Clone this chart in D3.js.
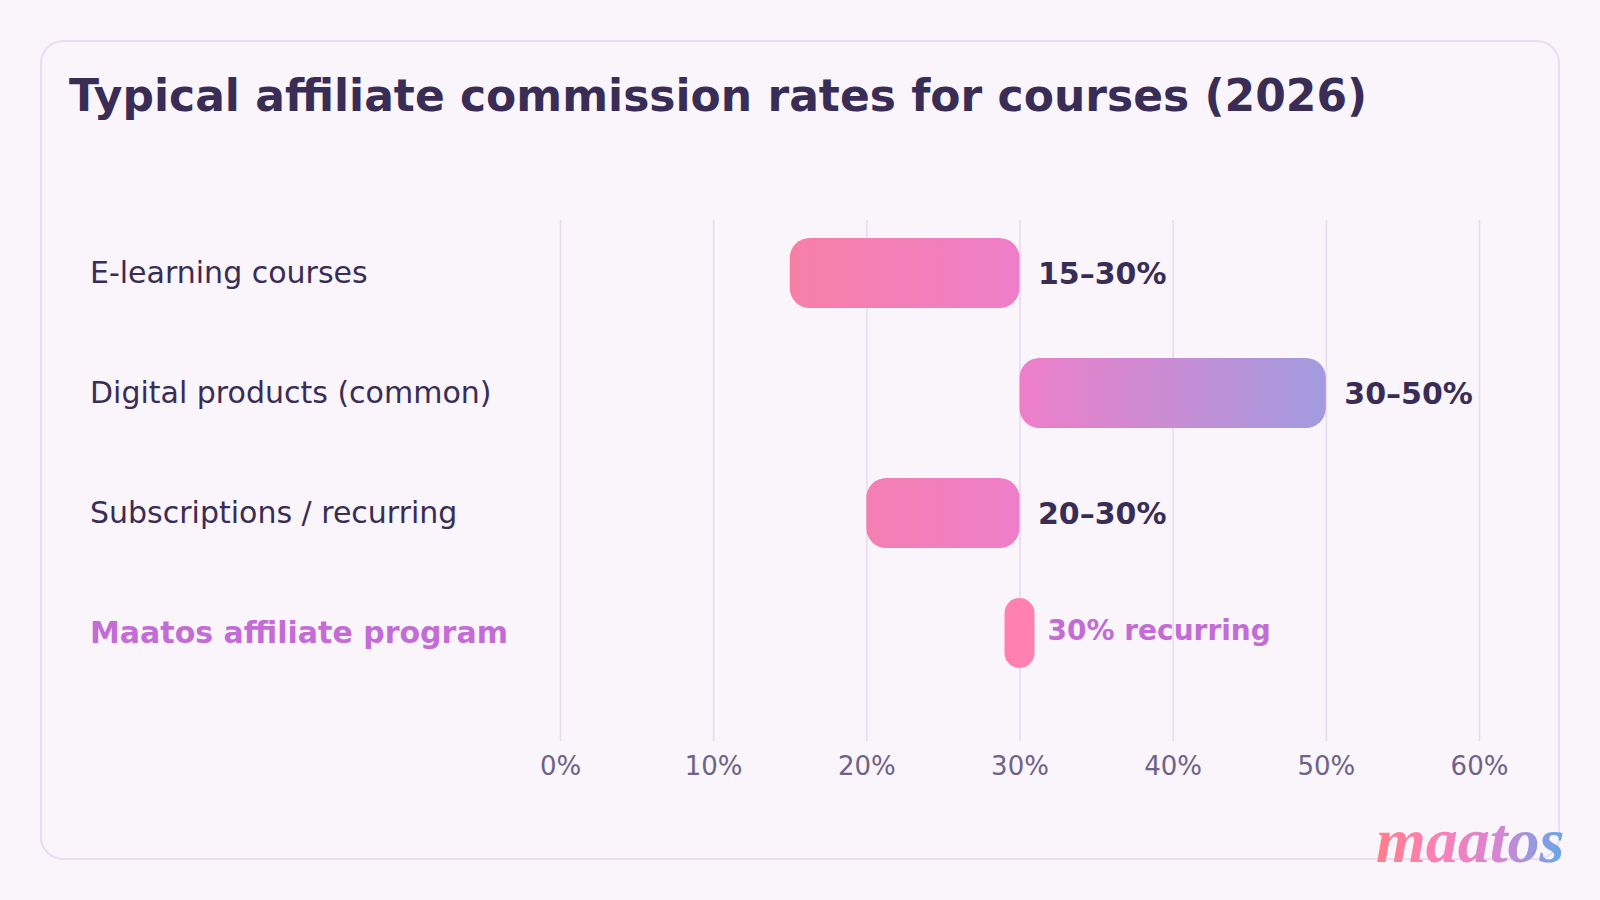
<!DOCTYPE html>
<html>
<head>
<meta charset="utf-8">
<script src="https://cdn.jsdelivr.net/npm/d3@7"></script>
<style>
  html, body { margin: 0; padding: 0; background: #F9F5FA; }
  svg { display: block; }
</style>
</head>
<body>
<svg id="chart" width="1600" height="900"></svg>
<script>
const categories = ["E-learning courses", "Digital products (common)", "Subscriptions / recurring", "Maatos affiliate program"];
const lowValues = [15, 30, 20, 30];
const highValues = [30, 50, 30, 30];
const valueLabels = ["15–30%", "30–50%", "20–30%", "30% recurring"];
const highlight = [false, false, false, true];
const tickValues = [0, 10, 20, 30, 40, 50, 60];
const tickLabels = ["0%", "10%", "20%", "30%", "40%", "50%", "60%"];
const titleText = "Typical affiliate commission rates for courses (2026)";

const svg = d3.select("#chart");
const font = "'DejaVu Sans', sans-serif";

svg.append("rect").attr("width", 1600).attr("height", 900).attr("fill", "#F9F5FA");
svg.append("rect")
  .attr("x", 41).attr("y", 41).attr("width", 1518).attr("height", 818)
  .attr("rx", 22).attr("ry", 22)
  .attr("fill", "#F9F5FA").attr("stroke", "#E8DEF0").attr("stroke-width", 2);

svg.append("text")
  .attr("x", 69).attr("y", 111)
  .attr("font-family", font).attr("font-weight", "bold").attr("font-size", 44)
  .attr("fill", "#3A2D55")
  .text(titleText);

const x = d3.scaleLinear().domain([0, 60]).range([560, 1479]);
const y = d3.scaleBand().domain(categories).range([238, 668]).paddingInner(50 / 120).paddingOuter(0);

const defs = svg.append("defs");
const grad = defs.append("linearGradient")
  .attr("id", "barGrad").attr("gradientUnits", "userSpaceOnUse")
  .attr("x1", x(15)).attr("x2", x(50)).attr("y1", 0).attr("y2", 0);
grad.append("stop").attr("offset", 0).attr("stop-color", "#F77FA6");
grad.append("stop").attr("offset", 15 / 35).attr("stop-color", "#EE7EC9");
grad.append("stop").attr("offset", 1).attr("stop-color", "#A29BDF");

const logoGrad = defs.append("linearGradient")
  .attr("id", "logoGrad").attr("x1", 0).attr("x2", 1).attr("y1", 0).attr("y2", 0);
logoGrad.append("stop").attr("offset", 0).attr("stop-color", "#FF7F8C");
logoGrad.append("stop").attr("offset", 0.35).attr("stop-color", "#FB80B8");
logoGrad.append("stop").attr("offset", 0.65).attr("stop-color", "#D585D3");
logoGrad.append("stop").attr("offset", 1).attr("stop-color", "#62A8E8");

// grid via axis
const axis = d3.axisBottom(x).tickValues(tickValues)
  .tickFormat((d, i) => tickLabels[i])
  .tickSize(-(741 - 220)).tickPadding(14);
const gAxis = svg.append("g").attr("transform", "translate(0,741)").call(axis);
gAxis.select(".domain").remove();
gAxis.selectAll(".tick line").attr("stroke", "#E6DCEE").attr("stroke-width", 1.6);
gAxis.selectAll(".tick text")
  .attr("font-family", font).attr("font-size", 26).attr("fill", "#6E6288")
  .attr("dy", 0).attr("y", 34);

const rows = categories.map((c, i) => ({
  cat: c, lo: lowValues[i], hi: highValues[i], label: valueLabels[i], hl: highlight[i]
}));

const g = svg.append("g");
// category labels
g.selectAll("text.cat").data(rows).enter().append("text")
  .attr("class", "cat")
  .attr("x", 90)
  .attr("y", d => y(d.cat) + y.bandwidth() / 2 + 9.5)
  .attr("font-family", font).attr("font-size", 30)
  .attr("font-weight", d => d.hl ? "bold" : "normal")
  .attr("fill", d => d.hl ? "#C36CD6" : "#3A2D55")
  .text(d => d.cat);

// bars
g.selectAll("rect.bar").data(rows).enter().append("rect")
  .attr("class", "bar")
  .attr("x", d => d.hl ? x(d.lo) - 15 : x(d.lo))
  .attr("y", d => y(d.cat))
  .attr("width", d => d.hl ? 30 : x(d.hi) - x(d.lo))
  .attr("height", y.bandwidth())
  .attr("rx", d => d.hl ? 15 : 20).attr("ry", d => d.hl ? 15 : 20)
  .attr("fill", d => d.hl ? "#FF80B1" : "url(#barGrad)");

// value labels
g.selectAll("text.val").data(rows).enter().append("text")
  .attr("class", "val")
  .attr("x", d => d.hl ? x(d.hi) + 15 + 13 : x(d.hi) + 18.5)
  .attr("y", d => y(d.cat) + y.bandwidth() / 2 + (d.hl ? 7 : 11))
  .attr("font-family", font).attr("font-weight", "bold")
  .attr("font-size", d => d.hl ? 28 : 30)
  .attr("fill", d => d.hl ? "#C36CD6" : "#3A2D55")
  .text(d => d.label);

// logo
svg.append("text")
  .attr("x", 1376).attr("y", 862)
  .attr("font-family", "'Liberation Serif', serif").attr("font-weight", "bold").attr("font-style", "italic")
  .attr("font-size", 64)
  .attr("fill", "url(#logoGrad)")
  .text("maatos");
</script>
</body>
</html>
